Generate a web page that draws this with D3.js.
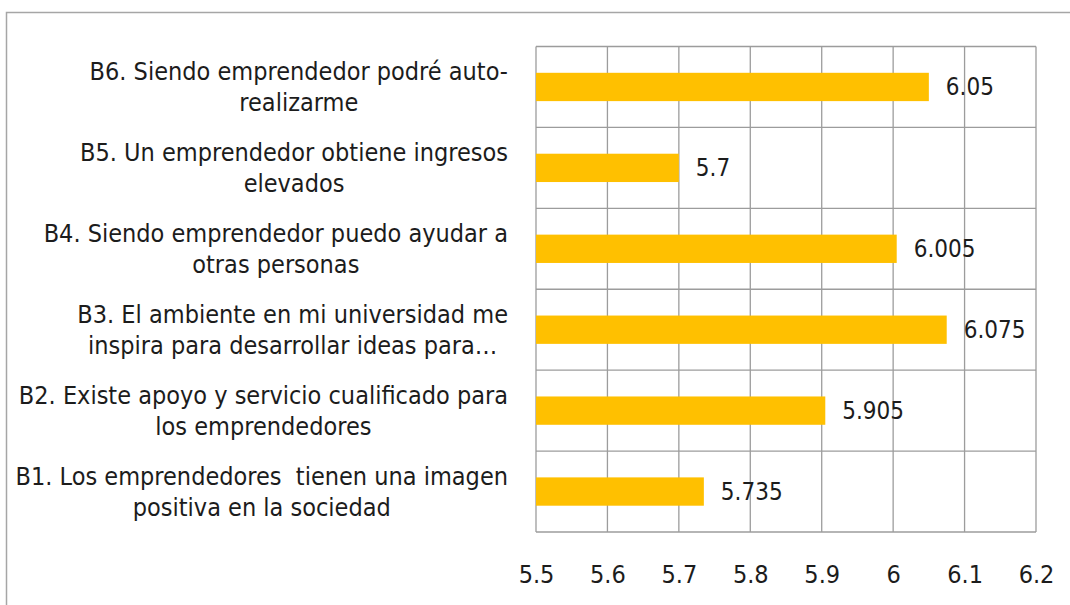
<!DOCTYPE html>
<html>
<head>
<meta charset="utf-8">
<script src="https://cdn.jsdelivr.net/npm/d3@7"></script>
<style>
  body { margin: 0; background: #fff; }
  svg { display: block; }
  text { font-family: "Liberation Sans Narrow", "DejaVu Sans Condensed", "Roboto", sans-serif; fill: #1c1c1c; }
</style>
</head>
<body>
<svg id="chart"></svg>
<script>
// categories, top to bottom as drawn
var categories = ["B6", "B5", "B4", "B3", "B2", "B1"];
var labels = [
  ["B6. Siendo emprendedor podré auto-", "realizarme"],
  ["B5. Un emprendedor obtiene ingresos", "elevados"],
  ["B4. Siendo emprendedor puedo ayudar a", "otras personas"],
  ["B3. El ambiente en mi universidad me", "inspira para desarrollar ideas para\u2026"],
  ["B2. Existe apoyo y servicio cualificado para", "los emprendedores"],
  ["B1. Los emprendedores  tienen una imagen", "positiva en la sociedad"]
];
var values = [6.05, 5.7, 6.005, 6.075, 5.905, 5.735];
var valueLabels = ["6.05", "5.7", "6.005", "6.075", "5.905", "5.735"];
var tickValues = [5.5, 5.6, 5.7, 5.8, 5.9, 6.0, 6.1, 6.2];
var tickLabels = ["5.5", "5.6", "5.7", "5.8", "5.9", "6", "6.1", "6.2"];

var width = 1070, height = 605;
var plot = {left: 536, right: 1036, top: 46.5, bottom: 532};

var svg = d3.select("#chart")
    .attr("width", width)
    .attr("height", height);

// outer chart border (top and left visible)
svg.append("path")
    .attr("d", "M6.5," + height + "V12.5H" + width)
    .attr("fill", "none")
    .attr("stroke", "#a6a6a6")
    .attr("stroke-width", 1.5);

var x = d3.scaleLinear()
    .domain([5.5, 6.2])
    .range([plot.left, plot.right]);
var y = d3.scaleBand()
    .domain(categories)
    .range([plot.top, plot.bottom])
    .padding(0);

// gridlines
var grid = svg.append("g").attr("stroke", "#9c9c9c").attr("stroke-width", 1.3);
grid.selectAll("line.v")
    .data(tickValues)
    .enter().append("line")
    .attr("x1", d => x(d)).attr("x2", d => x(d))
    .attr("y1", plot.top).attr("y2", plot.bottom);
grid.selectAll("line.h")
    .data(categories.concat(["end"]))
    .enter().append("line")
    .attr("x1", plot.left).attr("x2", plot.right)
    .attr("y1", (d, i) => i < categories.length ? y(d) : plot.bottom)
    .attr("y2", (d, i) => i < categories.length ? y(d) : plot.bottom);

// bars
var barH = y.bandwidth() * 0.35;
svg.selectAll("rect.bar")
    .data(values)
    .enter().append("rect")
    .attr("class", "bar")
    .attr("fill", "#ffc000")
    .attr("x", x(5.5))
    .attr("y", (d, i) => y(categories[i]) + (y.bandwidth() - barH) / 2)
    .attr("width", d => x(d) - x(5.5))
    .attr("height", barH);

// value labels
svg.selectAll("text.val")
    .data(values)
    .enter().append("text")
    .attr("class", "val")
    .attr("x", d => x(d) + 17)
    .attr("y", (d, i) => y(categories[i]) + y.bandwidth() / 2)
    .attr("dy", "0.35em")
    .attr("font-size", 24)
    .text((d, i) => valueLabels[i]);

// x axis
var xAxis = svg.append("g")
    .attr("transform", "translate(0," + plot.bottom + ")")
    .call(d3.axisBottom(x).tickValues(tickValues).tickSize(0).tickPadding(0)
        .tickFormat((d, i) => tickLabels[i]));
xAxis.select(".domain").remove();
xAxis.selectAll("text")
    .attr("y", 51)
    .attr("dy", 0)
    .attr("font-size", 25)
    .style("font-family", null)
    .attr("font-family", null);

// category labels: each block centred, block right edge at x=508
var labelRight = 508;
var lab = svg.selectAll("g.lab")
    .data(labels)
    .enter().append("g")
    .attr("class", "lab");
lab.each(function(lines, i) {
  var g = d3.select(this);
  var cy = y(categories[i]) + y.bandwidth() / 2;
  var ts = g.selectAll("text")
      .data(lines)
      .enter().append("text")
      .attr("font-size", 25)
      .attr("text-anchor", "middle")
      .attr("xml:space", "preserve")
      .style("white-space", "pre")
      .attr("y", (d, j) => cy + (j - 0.5) * 31)
      .attr("dy", "0.35em")
      .text(d => d);
  var maxW = d3.max(ts.nodes(), n => n.getComputedTextLength());
  ts.attr("x", labelRight - maxW / 2);
});
</script>
</body>
</html>
